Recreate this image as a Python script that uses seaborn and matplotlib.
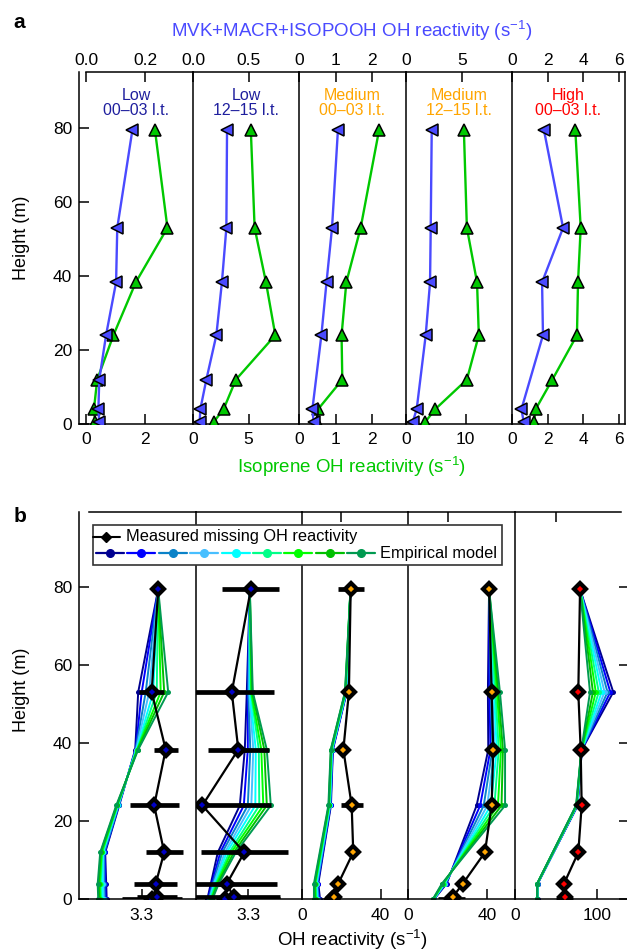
import numpy as np
import matplotlib
matplotlib.use("Agg")
import matplotlib.pyplot as plt
import seaborn as sns
from matplotlib.lines import Line2D
from matplotlib.patches import Rectangle

# ---- panel a: vertical profiles of isoprene and MVK+MACR+ISOPOOH OH reactivity ----
HEIGHTS_A = [0.5, 4, 12, 24, 38.3, 53, 79.3]
HEIGHTS_A_NO12 = [0.5, 4, 24, 38.3, 53, 79.3]

ISOPRENE = [
    [0.31, 0.27, 0.38, 0.93, 1.69, 2.76, 2.34],
    [1.85, 2.75, 3.86, 7.4, 6.56, 5.54, 5.2],
    [0.48, 0.52, 1.18, 1.16, 1.29, 1.68, 2.18],
    [3.2, 4.9, 10.2, 12.2, 11.9, 10.2, 9.7],
    [1.24, 1.33, 2.27, 3.65, 3.71, 3.86, 3.56],
]
MVK = [
    [0.045, 0.042, 0.045, 0.068, 0.102, 0.106, 0.157],
    [0.06, 0.066, 0.12, 0.21, 0.26, 0.30, 0.306],
    [0.40, 0.365, 0.61, 0.75, 0.90, 1.06],
    [0.6, 0.96, 1.77, 2.16, 2.22, 2.31],
    [0.66, 0.53, 1.74, 1.69, 2.87, 1.80],
]
TITLES = ["Low\n00–03 l.t.", "Low\n12–15 l.t.", "Medium\n00–03 l.t.",
          "Medium\n12–15 l.t.", "High\n00–03 l.t."]
TITLE_COLORS = ["#1f1f9e", "#1f1f9e", "#ffa500", "#ffa500", "#ff0000"]

ISO_TICKS = [[0, 2], [0, 5], [0, 1, 2], [0, 10], [0, 2, 4, 6]]
MVK_TICKS = [[0, 0.2], [0, 0.5], [0, 1, 2], [0, 5], [0, 2, 4, 6]]
MVK_TICKLABELS = [["0.0", "0.2"], ["0.0", "0.5"], ["0", "1", "2"], ["0", "5"], ["0", "2", "4", "6"]]

# ---- panel b: measured missing OH reactivity vs empirical model ----
HEIGHTS_B = [0, 0.5, 4, 12, 24, 38.3, 53, 79.3]
MEASURED = [
    [3.320, 3.331, 3.328, 3.345, 3.325, 3.348, 3.320, 3.333],
    [3.254, 3.271, 3.257, 3.292, 3.208, 3.280, 3.267, 3.305],
    [15.5, 16.3, 18.5, 26.1, 25.3, 21.1, 23.9, 24.8],
    [22.0, 22.4, 27.6, 38.8, 42.2, 43.0, 42.2, 40.9],
    [61.2, 61.6, 60.0, 77.5, 81.6, 80.4, 77.5, 79.6],
]
MEASURED_ERR = [
    [0.060, 0.040, 0.043, 0.037, 0.049, 0.024, 0.025, 0.006],
    [0.110, 0.093, 0.101, 0.087, 0.137, 0.061, 0.085, 0.057],
    [1.0, 1.0, 1.0, 1.0, 5.5, 1.0, 1.5, 6.5],
    [6.8, 1.0, 1.0, 1.0, 1.0, 1.0, 1.0, 1.0],
    [2.0, 2.0, 2.0, 2.0, 2.0, 2.0, 2.0, 2.0],
]
MEAS_COLORS = ["#0000c8", "#0000c8", "#ffa500", "#ffa500", "#ff0000"]

MODEL_HEIGHTS = [
    [0, 4, 12, 24, 38.3, 53, 79.3],
    [0, 4, 12, 24, 38.3, 53, 79.3],
    [0, 4, 24, 38.3, 53, 79.3],
    [0, 4, 24, 38.3, 53, 79.3],
    [0, 4, 24, 38.3, 53, 79.3],
]
MODEL_COLORS = ["#000090", "#0000ff", "#0a82c8", "#48bfff", "#00ffff",
                "#00ff88", "#00ff00", "#00c000", "#009a50"]
# one list per height, each holding the 9 model runs (navy -> sea green)
MODEL_B1 = [
    [3.230, 3.228, 3.226, 3.224, 3.222, 3.219, 3.217, 3.215, 3.213],
    [3.229, 3.227, 3.225, 3.223, 3.221, 3.218, 3.216, 3.214, 3.212],
    [3.227, 3.226, 3.225, 3.223, 3.222, 3.221, 3.220, 3.218, 3.217],
    [3.255, 3.254, 3.254, 3.253, 3.252, 3.251, 3.251, 3.250, 3.249],
    [3.287, 3.288, 3.288, 3.289, 3.290, 3.291, 3.291, 3.292, 3.293],
    [3.293, 3.300, 3.308, 3.315, 3.323, 3.330, 3.338, 3.345, 3.353],
    [3.333, 3.333, 3.333, 3.333, 3.333, 3.333, 3.333, 3.333, 3.333],
]
MODEL_B2 = [
    [3.218, 3.219, 3.221, 3.222, 3.223, 3.224, 3.226, 3.227, 3.228],
    [3.225, 3.227, 3.229, 3.231, 3.233, 3.235, 3.237, 3.239, 3.241],
    [3.239, 3.244, 3.248, 3.253, 3.257, 3.262, 3.266, 3.271, 3.275],
    [3.283, 3.291, 3.299, 3.306, 3.314, 3.322, 3.330, 3.337, 3.345],
    [3.293, 3.299, 3.304, 3.310, 3.315, 3.321, 3.326, 3.332, 3.337],
    [3.297, 3.299, 3.300, 3.302, 3.303, 3.305, 3.306, 3.308, 3.309],
    [3.303, 3.303, 3.303, 3.303, 3.303, 3.303, 3.303, 3.303, 3.303],
]
MODEL_B3 = [
    [9.3, 8.9, 8.5, 8.1, 7.8, 7.4, 7.0, 6.6, 6.2],
    [8.4, 8.1, 7.9, 7.6, 7.3, 7.0, 6.8, 6.5, 6.2],
    [14.8, 14.6, 14.5, 14.3, 14.2, 14.0, 13.8, 13.7, 13.5],
    [15.8, 15.7, 15.5, 15.4, 15.3, 15.1, 15.0, 14.8, 14.7],
    [22.8, 22.7, 22.6, 22.5, 22.4, 22.2, 22.1, 22.0, 21.9],
    [24.7, 24.7, 24.7, 24.7, 24.7, 24.7, 24.7, 24.7, 24.7],
]
MODEL_B4 = [
    [13.0, 12.9, 12.9, 12.8, 12.7, 12.6, 12.6, 12.5, 12.4],
    [19.4, 19.1, 18.8, 18.5, 18.2, 17.9, 17.6, 17.3, 17.0],
    [34.6, 36.4, 38.2, 40.0, 41.8, 43.6, 45.4, 47.2, 49.0],
    [40.5, 41.6, 42.6, 43.7, 44.8, 45.8, 46.9, 47.9, 49.0],
    [40.3, 41.1, 41.8, 42.6, 43.4, 44.1, 44.9, 45.6, 46.4],
    [40.9, 40.9, 40.9, 40.9, 40.9, 40.9, 40.9, 40.9, 40.9],
]
MODEL_B5 = [
    [27.6, 27.5, 27.5, 27.4, 27.3, 27.2, 27.2, 27.1, 27.0],
    [27.8, 27.7, 27.6, 27.5, 27.4, 27.3, 27.2, 27.1, 27.0],
    [76.7, 76.5, 76.2, 76.0, 75.7, 75.5, 75.2, 75.0, 74.7],
    [81.9, 81.8, 81.8, 81.7, 81.6, 81.5, 81.4, 81.4, 81.3],
    [120.3, 116.7, 113.2, 109.6, 106.1, 102.5, 98.9, 95.4, 91.8],
    [79.6, 79.6, 79.6, 79.6, 79.6, 79.6, 79.6, 79.6, 79.6],
]
MODEL = [MODEL_B1, MODEL_B2, MODEL_B3, MODEL_B4, MODEL_B5]
B_TOP_TICKS = [[3.3], [3.3], [20, 40], [20, 40], [50, 100]]
B_BOT_TICKS = [[3.3], [3.3], [0, 40], [0, 40], [0, 100]]

BLUE = "#4a4aff"
GREEN = "#00c800"
W, H = 627, 952

sns.set_theme(style="ticks", rc={
    "axes.linewidth": 1.1,
    "xtick.major.width": 1.1, "ytick.major.width": 1.1,
    "xtick.major.size": 7, "ytick.major.size": 7,
    "xtick.labelsize": 12.5, "ytick.labelsize": 12.5,
    "xtick.color": "black", "ytick.color": "black",
    "axes.edgecolor": "black", "text.color": "black",
    "axes.labelcolor": "black",
})
plt.rcParams["font.family"] = ["Liberation Sans", "DejaVu Sans"]
plt.rcParams["mathtext.fontset"] = "custom"
plt.rcParams["mathtext.rm"] = "Liberation Sans"
plt.rcParams["mathtext.it"] = "Liberation Sans:italic"

fig = plt.figure(figsize=(W / 100, H / 100), dpi=100)


def px_axes(x0, y0, x1, y1):
    return fig.add_axes([x0 / W, 1 - y1 / H, (x1 - x0) / W, (y1 - y0) / H])


def px_text(x, y, s, **kw):
    fig.text(x / W, 1 - y / H, s, **kw)


def px_line(xs, ys, **kw):
    fig.add_artist(Line2D([x / W for x in xs], [1 - y / H for y in ys],
                          transform=fig.transFigure, **kw))


# ---------------- panel a ----------------
EDGES_A = [79, 193, 299, 406, 512, 625]
XLIM_ISO = [(-0.237, 3.627), (0, 9.53), (0, 2.916), (0, 17.76), (0, 6.35)]
XLIM_MVK = [(-0.0237, 0.3627), (0, 0.953), (0, 2.916), (0, 9.52), (0, 6.35)]

for i in range(5):
    ax = px_axes(EDGES_A[i], 72, EDGES_A[i + 1], 424)
    axt = ax.twiny()
    sns.lineplot(x=ISOPRENE[i], y=HEIGHTS_A, sort=False, estimator=None, ax=ax,
                 color=GREEN, lw=1.7, marker="^", ms=8, mfc=GREEN, mec="black",
                 mew=1.1, zorder=3)
    mvk_h = HEIGHTS_A if i < 2 else HEIGHTS_A_NO12
    sns.lineplot(x=MVK[i], y=mvk_h, sort=False, estimator=None, ax=axt,
                 color=BLUE, lw=1.7, marker="<", ms=8, mfc=BLUE, mec="black",
                 mew=1.1, zorder=3)
    ax.set_xlim(*XLIM_ISO[i])
    axt.set_xlim(*XLIM_MVK[i])
    ax.set_ylim(0, 95.1)
    for a in (ax, axt):
        a.set_xlabel("")
        a.set_ylabel("")
        a.set_facecolor("none")
    ax.spines["top"].set_visible(False)
    ax.spines["right"].set_visible(i == 4)
    for s in ("left", "right", "bottom"):
        axt.spines[s].set_visible(False)
    if i == 0:
        axt.spines["top"].set_bounds(0, XLIM_MVK[0][1])
    ax.set_xticks(ISO_TICKS[i])
    ax.set_xticklabels([str(t) for t in ISO_TICKS[i]])
    ax.tick_params(axis="x", direction="in", bottom=True, top=False, pad=6)
    axt.set_xticks(MVK_TICKS[i])
    axt.set_xticklabels(MVK_TICKLABELS[i])
    axt.tick_params(axis="x", direction="in", top=True, bottom=False,
                    labeltop=True, labelbottom=False, pad=3)
    if i == 0:
        ax.set_yticks([0, 20, 40, 60, 80])
        ax.tick_params(axis="y", direction="in", left=True, pad=5)
    else:
        ax.tick_params(axis="y", left=False, labelleft=False)
    xc = (EDGES_A[i] + EDGES_A[i + 1]) / 2
    px_text(xc, 103, TITLES[i], ha="center", va="center", fontsize=11.5,
            color=TITLE_COLORS[i], linespacing=1.0)

# ---------------- panel b ----------------
EDGES_B = [79, 195.7, 301.7, 408.3, 515, 627]
XLIM_B = [(3.1746, 3.408), (3.1948, 3.4068), (0, 53.97), (0, 54.03), (0, 137.1)]

for i in range(5):
    ax = px_axes(EDGES_B[i], 512.3, EDGES_B[i + 1], 899.3)
    runs = np.array(MODEL[i]).T
    for run, col in zip(runs, MODEL_COLORS):
        sns.lineplot(x=run, y=MODEL_HEIGHTS[i], sort=False, estimator=None, ax=ax,
                     color=col, lw=1.4, marker="o", ms=3.6, mec=col, mew=0,
                     zorder=2)
    ax.errorbar(MEASURED[i], HEIGHTS_B, xerr=MEASURED_ERR[i], fmt="none",
                ecolor="black", elinewidth=3.4, capsize=0, zorder=3)
    sns.lineplot(x=MEASURED[i], y=HEIGHTS_B, sort=False, estimator=None, ax=ax,
                 color="black", lw=1.6, marker="D", ms=6.6, mfc=MEAS_COLORS[i],
                 mec="black", mew=3.0, zorder=4)
    ax.set_xlim(*XLIM_B[i])
    ax.set_ylim(0, 99)
    ax.set_xlabel("")
    ax.set_ylabel("")
    ax.set_facecolor("none")
    ax.spines["right"].set_visible(False)
    if i == 0:
        ax.spines["top"].set_bounds(3.194, XLIM_B[0][1])
    if i == 4:
        ax.spines["top"].set_bounds(0, 129.7)
    ax.set_xticks(B_BOT_TICKS[i])
    ax.set_xticklabels([str(t) for t in B_BOT_TICKS[i]])
    ax.set_xticks(B_TOP_TICKS[i], minor=True)
    ax.tick_params(axis="x", which="major", direction="in", bottom=True, top=False, pad=6)
    ax.tick_params(axis="x", which="minor", direction="in", bottom=False, top=True,
                   length=7, width=1.1)
    if i == 0:
        ax.set_yticks([0, 20, 40, 60, 80])
        ax.tick_params(axis="y", direction="in", left=True, pad=5)
    elif i == 4:
        ax.set_yticks([0, 20, 40, 60, 80])
        ax.tick_params(axis="y", direction="in", left=False, right=True,
                       labelleft=False, length=6)
    else:
        ax.tick_params(axis="y", left=False, labelleft=False)

# legend of panel b
fig.add_artist(Rectangle((92.7 / W, 1 - 565 / H), (502.3 - 92.7) / W, 40 / H,
                         transform=fig.transFigure, facecolor="white",
                         edgecolor="#333333", lw=1.2, zorder=5))
px_line([93, 119.5], [536.7, 536.7], color="black", lw=1.5, zorder=6)
px_line([106.2], [536.7], color="black", marker="D", ms=5.5, lw=0, zorder=6)
px_text(126.5, 536.7, "Measured missing OH reactivity", ha="left", va="center",
        fontsize=11.8, zorder=6)
for k, col in enumerate(MODEL_COLORS):
    xc = 110 + k * 31.4
    px_line([xc - 14, xc + 14], [553.3, 553.3], color=col, lw=1.6, zorder=6)
    px_line([xc], [553.3], color=col, marker="o", ms=5.5, lw=0, zorder=6)
px_text(380.5, 553.3, "Empirical model", ha="left", va="center", fontsize=11.8, zorder=6)

# axis labels and panel letters
px_text(352, 31, "MVK+MACR+ISOPOOH OH reactivity (s$^{-1}$)", ha="center",
        va="center", fontsize=13.5, color="#4a4aff")
px_text(352, 467, "Isoprene OH reactivity (s$^{-1}$)", ha="center", va="center",
        fontsize=13.5, color="#00c800")
px_text(352, 940, "OH reactivity (s$^{-1}$)", ha="center", va="center", fontsize=13.5)
px_text(22, 238, "Height (m)", rotation=90, ha="center", va="center", fontsize=13)
px_text(22, 690, "Height (m)", rotation=90, ha="center", va="center", fontsize=13)
px_text(19, 22, "a", ha="center", va="center", fontsize=15, fontweight="bold")
px_text(20, 517, "b", ha="center", va="center", fontsize=15, fontweight="bold")

fig.savefig("out.png", dpi=100)
